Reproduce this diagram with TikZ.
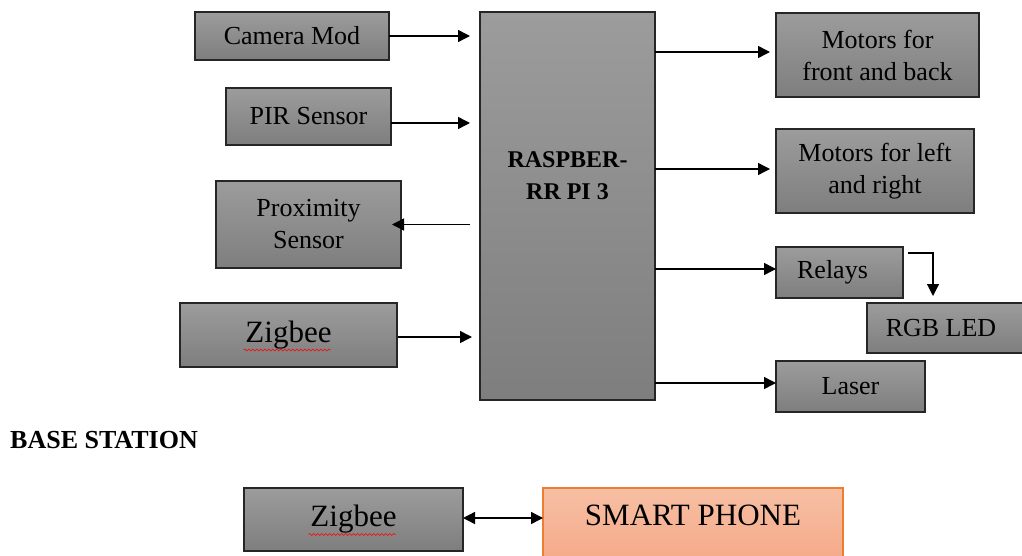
\documentclass[tikz,border=0pt]{standalone}
\usepackage{fontspec}
\setmainfont{Liberation Serif}
\usetikzlibrary{positioning, arrows.meta, decorations.pathmorphing}

\definecolor{boxtop}{HTML}{9C9C9C}
\definecolor{boxbot}{HTML}{7E7E7E}
\definecolor{phonetop}{HTML}{F7BFA4}
\definecolor{phonebot}{HTML}{F4A582}
\definecolor{phoneline}{HTML}{ED7D31}

\begin{document}
\begin{tikzpicture}[x=1pt,y=-1pt,>={Triangle[length=12pt,width=12pt]}]
    \tikzstyle{block} = [rectangle,text centered,align=center,draw=black!85,line width=1.6pt,top color=boxtop,bottom color=boxbot,inner sep=0pt,outer sep=0pt,font=\fontsize{26}{32}\selectfont]
    \tikzstyle{link} = [->,line width=1.4pt]
    \tikzstyle{spell} = [red,line width=0.6pt,decorate,decoration={snake,amplitude=1pt,segment length=4pt}]

    \useasboundingbox (0,0) rectangle (1022,556);

    % raspberry pi in the middle
    \node (rpi) [block,minimum width=175,minimum height=388,text depth=60pt,font=\fontsize{24}{32}\selectfont\bfseries] at (567.5,206) {RASPBER-\\RR PI 3};

    % inputs and outputs on the left
    \node (cam) [block,minimum width=194,minimum height=48] at (292,36) {Camera Mod};
    \draw [link,shorten >=10pt] (cam) -- (cam -| rpi.west);

    \node (pir) [block,minimum width=165,minimum height=57] at (308.5,116.5) {PIR Sensor};
    \draw [link,shorten >=10pt] ([yshift=-6.5]pir.east) -- ([yshift=-6.5]pir.east -| rpi.west);

    \node (prox) [block,minimum width=185,minimum height=87] at (308.5,224.5) {Proximity\\Sensor};
    \draw [link,shorten <=10pt,shorten >=-9pt] (prox.east -| rpi.west) -- (prox.east);

    \node (zig) [block,minimum width=217,minimum height=64,font=\fontsize{31}{36}\selectfont] at (288.5,335) {Zigbee};
    \draw [spell] ([xshift=-45,yshift=-15]zig.center) -- ([xshift=42,yshift=-15]zig.center);
    \draw [link,shorten >=8pt,shorten <=1pt] ([yshift=-2]zig.east) -- ([yshift=-2]zig.east -| rpi.west);

    % outputs on the right
    \node (front) [block,minimum width=203,minimum height=84] at (877.5,55) {Motors for\\front and back};
    \draw [link,shorten >=6pt] ([yshift=3]front.west -| rpi.east) -- ([yshift=3]front.west);

    \node (side) [block,minimum width=198,minimum height=84] at (875,171) {Motors for left\\and right};
    \draw [link,shorten >=6pt] ([yshift=2]side.west -| rpi.east) -- ([yshift=2]side.west);

    \node (relay) [block,minimum width=127,minimum height=51] at (839.5,272.5) {Relays\hspace*{14pt}};
    \draw [link] ([yshift=3.5]relay.west -| rpi.east) -- ([yshift=3.5]relay.west);

    \node (rgb) [block,minimum width=170,minimum height=50] at (952,328) {RGB LED\hspace*{22pt}};
    \coordinate (bend) at ([xshift=30,yshift=-6]relay.north east);
    \draw [link,line width=1.2pt,shorten >=7pt] ([xshift=5,yshift=-6]relay.north east) -- (bend) -- (bend |- rgb.north);

    \node (laser) [block,minimum width=149,minimum height=51] at (850.5,386.5) {Laser};
    \draw [link] ([yshift=3.5]laser.west -| rpi.east) -- ([yshift=3.5]laser.west);

    % base station
    \node (base) [anchor=west,inner sep=0pt,font=\fontsize{26}{30}\selectfont\bfseries] at (10,440) {BASE STATION};

    \node (zig2) [block,minimum width=219,minimum height=63,font=\fontsize{31}{36}\selectfont] at (353.5,519.5) {Zigbee};
    \draw [spell] ([xshift=-45,yshift=-15]zig2.center) -- ([xshift=42,yshift=-15]zig2.center);

    \node (phone) [block,draw=phoneline,line width=1.2pt,top color=phonetop,bottom color=phonebot,minimum width=300,minimum height=90,text depth=36pt,font=\fontsize{31}{36}\selectfont] at (693,533) {SMART PHONE};
    \draw [<->,line width=1.4pt] ([yshift=1.5]zig2.east) -- ([yshift=1.5]zig2.east -| phone.west);

\end{tikzpicture}
\end{document}
